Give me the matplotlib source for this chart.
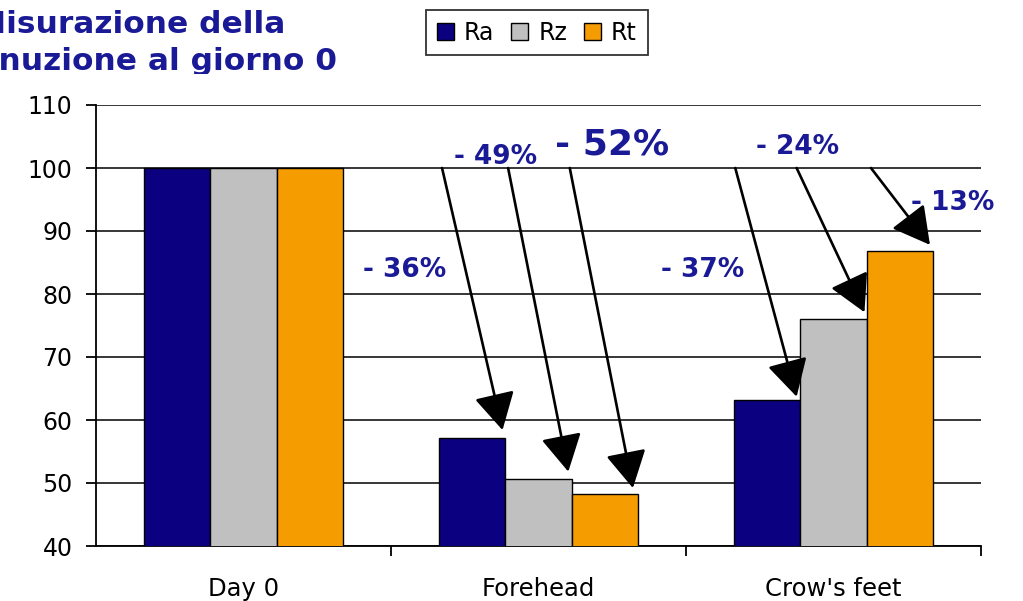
import numpy as np
import matplotlib
matplotlib.use("Agg")
import matplotlib.pyplot as plt
from matplotlib.transforms import Bbox

NAVY = "#0b0080"; GREY = "#c0c0c0"; ORANGE = "#f49c00"; TXT = "#1a1a96"
plt.rcParams.update({"font.family": ["DejaVu Sans"], "font.size": 17})

categories = ["Day 0", "Forehead", "Crow's feet"]
series = ["Ra", "Rz", "Rt"]
ra = [100, 57.1, 63.2]
rz = [100, 50.7, 76.0]
rt = [100, 48.3, 86.8]

# percentage labels: (text, x, y, size)
pct_labels = [("- 36%", 0.546, 83.8, 19), ("- 49%", 0.855, 101.7, 19), ("- 52%", 1.248, 103.7, 26),
              ("- 37%", 1.556, 83.8, 19), ("- 24%", 1.879, 103.3, 19), ("- 13%", 2.405, 94.4, 19)]
# arrows: start (x, y) -> tip (x, y)
arrows = [((0.673, 100.0), (0.878, 58.4)), ((0.897, 100.0), (1.101, 51.8)),
          ((1.106, 100.0), (1.320, 49.2)), ((1.667, 100.0), (1.875, 63.7)),
          ((1.875, 100.0), (2.105, 77.1)), ((2.127, 100.0), (2.327, 87.8))]

fig = plt.figure(figsize=(10.23, 6.01), dpi=100)
ax = fig.add_axes([96/1023, 1-546/601, 885/1023, 441/601])

x = np.arange(len(categories))
w = 0.225
for i, (vals, col, lab) in enumerate(zip([ra, rz, rt], [NAVY, GREY, ORANGE], series)):
    ax.bar(x + (i-1)*w, vals, width=w, color=col, edgecolor="black", linewidth=1.0,
           label=lab, zorder=3)

ax.set_xlim(-0.5, 2.5); ax.set_ylim(40, 110)
ax.set_yticks(np.arange(40, 111, 10))
ax.yaxis.grid(True, color="#262626", lw=1.3, zorder=0)
ax.set_axisbelow(True)
ax.set_xticks(x); ax.set_xticklabels(categories, fontsize=17.5)
ax.set_xticks([0.5, 1.5, 2.5], minor=True)
ax.tick_params(axis="x", which="major", length=0, pad=22)
ax.tick_params(axis="x", which="minor", length=7, width=1.3, direction="out")
ax.tick_params(axis="y", length=7, width=1.3, pad=10, colors="black")
for s in ["top", "right"]:
    ax.spines[s].set_visible(False)
for s in ["left", "bottom"]:
    ax.spines[s].set_linewidth(1.3)

for (x0, y0), (x1, y1) in arrows:
    ax.annotate("", xy=(x1, y1), xytext=(x0, y0),
                arrowprops=dict(arrowstyle="-|>,head_length=1.0,head_width=0.55", color="black",
                                lw=1.9, mutation_scale=23, shrinkA=0, shrinkB=0), zorder=5)
for t, tx, ty, sz in pct_labels:
    ax.text(tx, ty, t, ha="center", va="center", fontsize=sz, fontweight="bold", color=TXT, zorder=6)

leg = fig.legend(loc="center", bbox_to_anchor=(537/1023, 1-32.5/601), ncol=3, frameon=True,
                 fancybox=False, edgecolor="black", fontsize=17, handlelength=0.72, handleheight=0.72,
                 handletextpad=0.42, columnspacing=0.72, borderpad=0.45, borderaxespad=0)
leg.get_frame().set_linewidth(1.3)

title = fig.text(130/1023, 1-10/601, "Misurazione della\ndiminuzione al giorno 0", ha="center", va="top",
                 fontsize=22.5, fontweight="bold", color=TXT, linespacing=1.34, multialignment="center")
title.set_clip_box(Bbox([[-200, 601-74], [1200, 700]]))
title.set_clip_on(True)

fig.savefig("out.png", dpi=100)
